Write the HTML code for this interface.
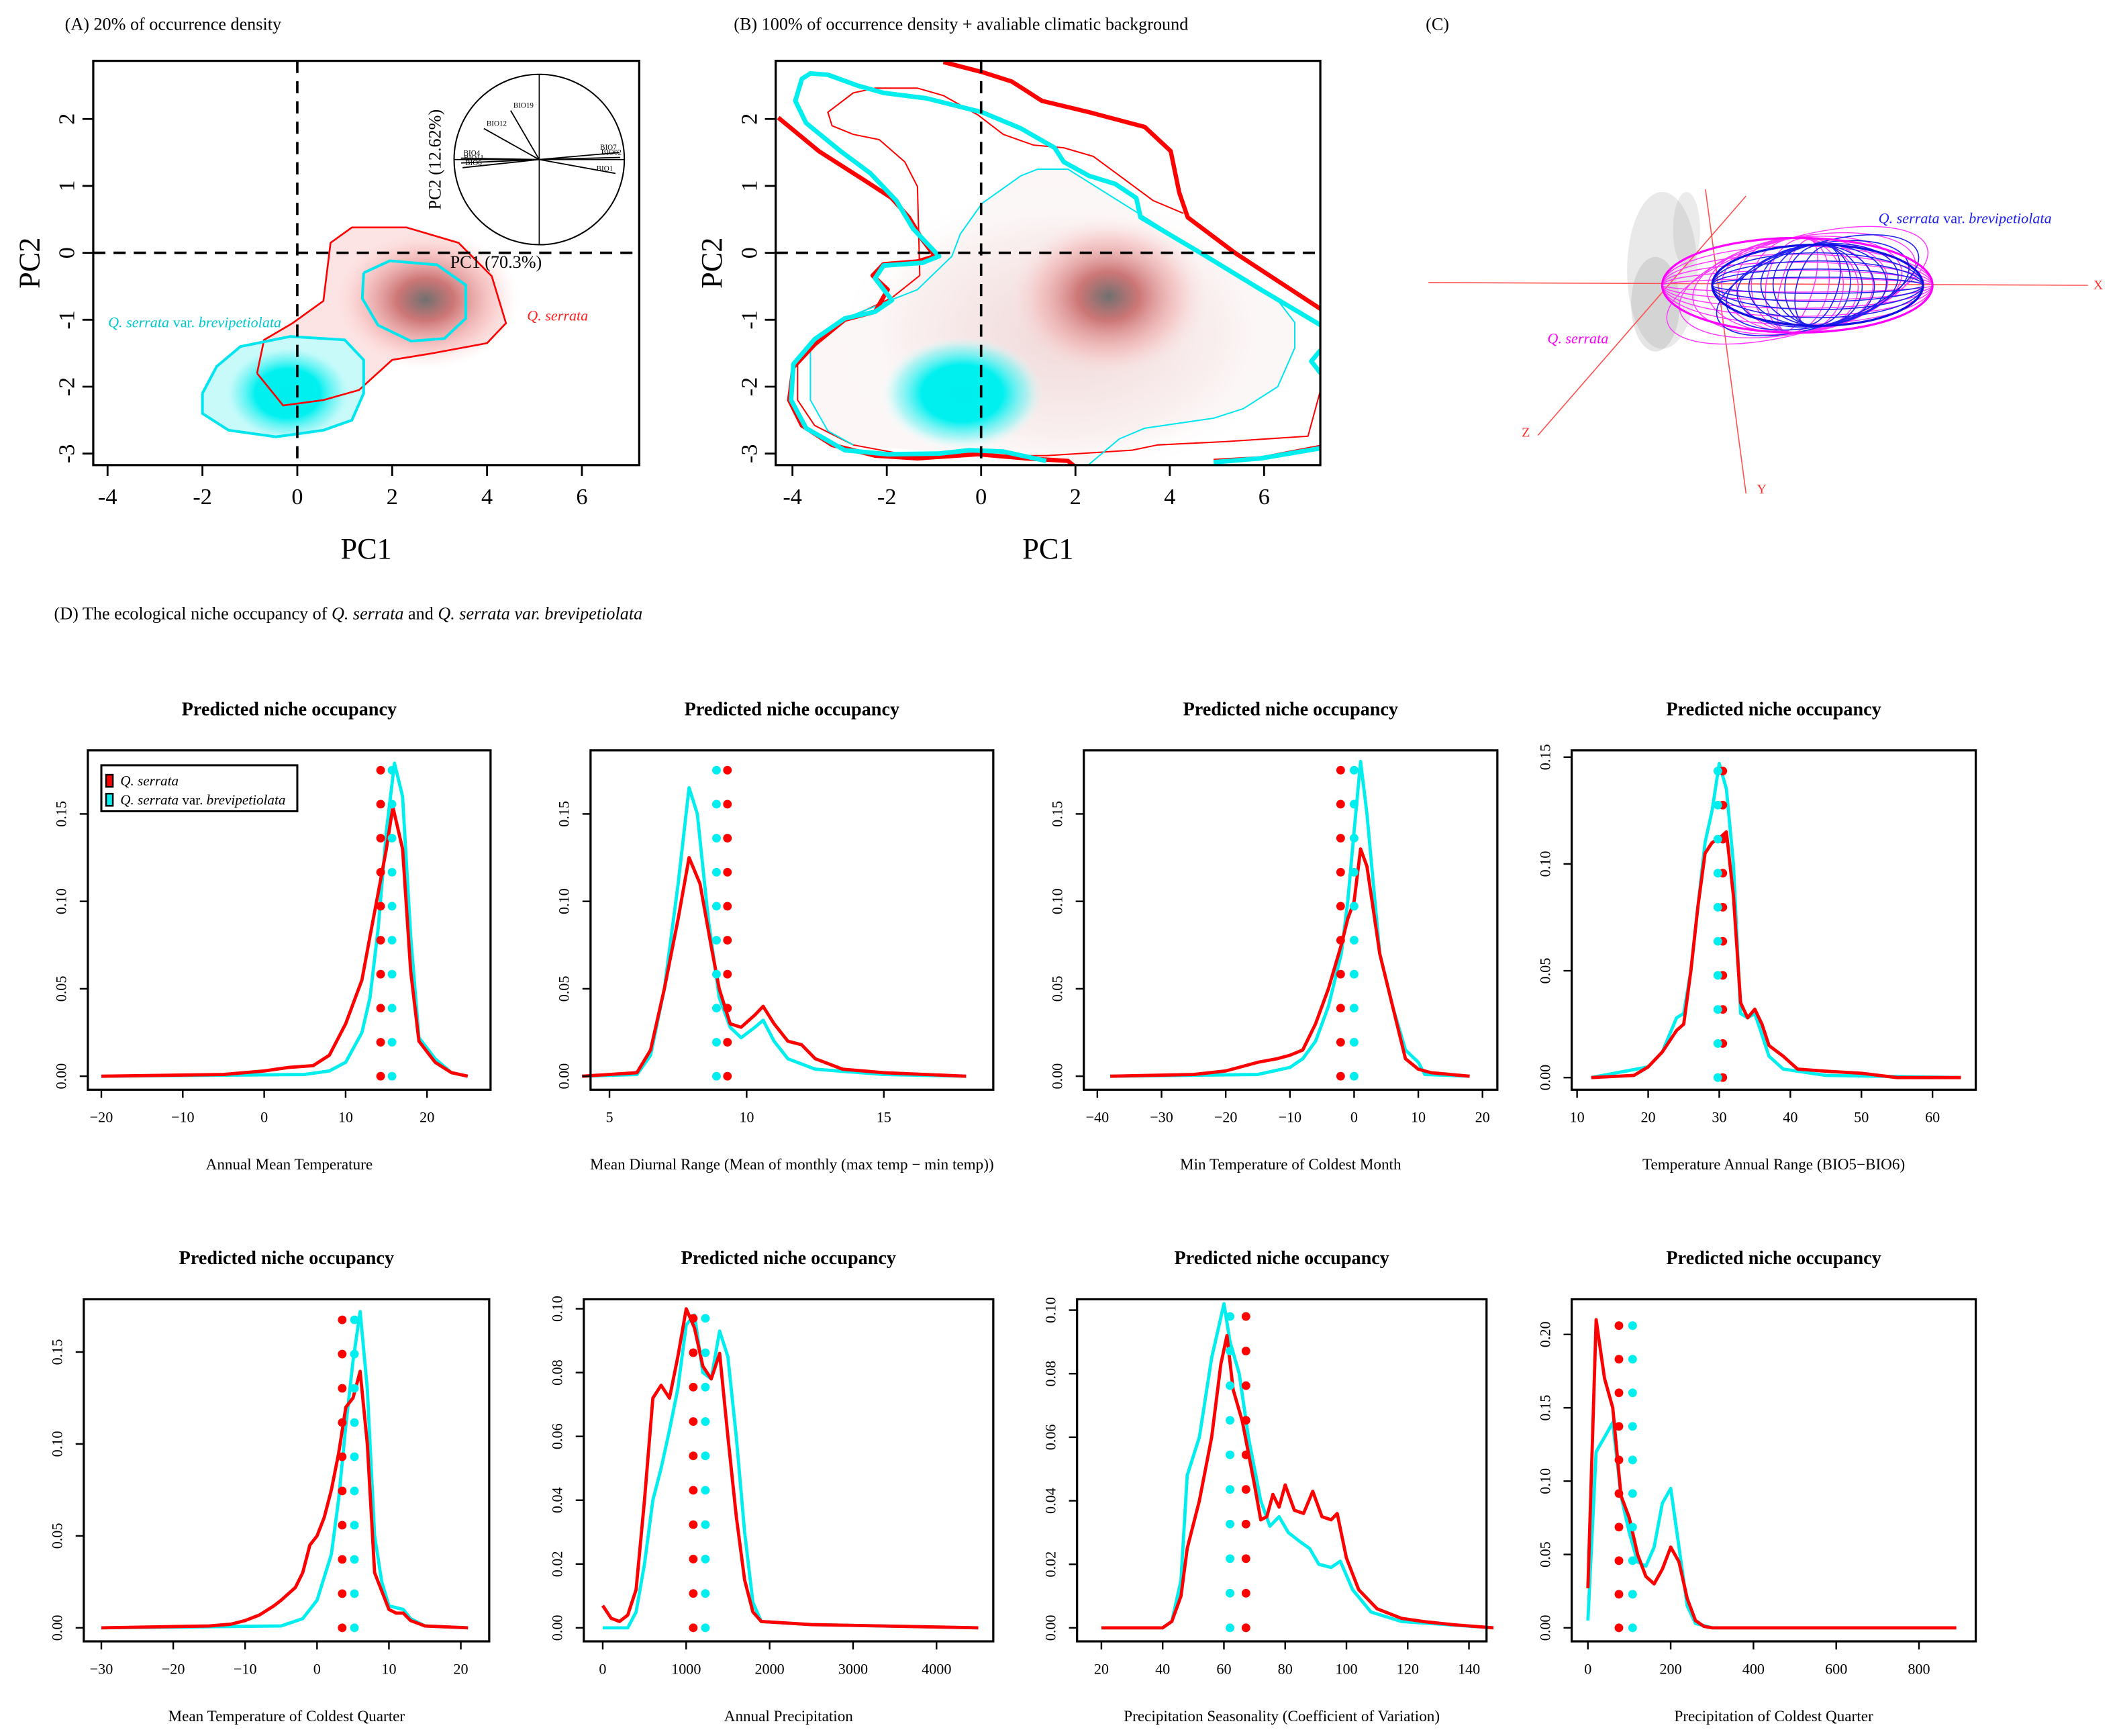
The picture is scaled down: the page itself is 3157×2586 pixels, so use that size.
<!DOCTYPE html>
<html><head><meta charset="utf-8">
<style>
html,body{margin:0;padding:0;background:#fff;}
svg{display:block;font-family:"Liberation Serif",serif;}
</style></head>
<body>
<svg id="fig" width="3157" height="2586" viewBox="0 0 1568 1284" preserveAspectRatio="none" xmlns="http://www.w3.org/2000/svg">
<defs>
<radialGradient id="redA">
<stop offset="0" stop-color="#707070"/><stop offset="0.3" stop-color="#c86a6a" stop-opacity="0.9"/><stop offset="0.7" stop-color="#f4b0b0" stop-opacity="0.5"/><stop offset="1" stop-color="#fde8e8" stop-opacity="0"/>
</radialGradient>
<radialGradient id="cyanA">
<stop offset="0" stop-color="#00eeee"/><stop offset="0.5" stop-color="#00f0f0"/><stop offset="0.8" stop-color="#80f4f4" stop-opacity="0.6"/><stop offset="1" stop-color="#e0ffff" stop-opacity="0"/>
</radialGradient>
<radialGradient id="bgB">
<stop offset="0" stop-color="#f0d8d8"/><stop offset="0.7" stop-color="#faf0f0"/><stop offset="1" stop-color="#ffffff" stop-opacity="0"/>
</radialGradient>
<clipPath id="clipA"><rect x="69" y="45" width="404" height="299"/></clipPath>
<clipPath id="clipB"><rect x="574" y="45" width="403" height="299"/></clipPath>
</defs>
<g id="root"></g>
</svg>
<script>
// ---------- Panel A/B contour data (PC1, PC2) ----------
const contourA_red = [[-0.85,-1.8],[-0.7,-1.3],[-0.1,-1.05],[0.55,-0.72],[0.7,0.15],[1.15,0.38],[2.3,0.38],[3.4,0.15],[4.1,-0.35],[4.4,-1.05],[4.0,-1.35],[2.85,-1.5],[2.0,-1.6],[1.3,-2.05],[0.55,-2.2],[-0.3,-2.28],[-0.85,-1.8]];
const contourA_cyanOuter = [[-2.0,-2.1],[-1.7,-1.7],[-1.2,-1.4],[-0.15,-1.25],[1.0,-1.3],[1.4,-1.6],[1.4,-2.1],[1.15,-2.5],[0.55,-2.65],[-0.45,-2.75],[-1.45,-2.65],[-2.0,-2.4],[-2.0,-2.1]];
const contourA_cyanInner = [[1.4,-0.3],[1.95,-0.12],[2.95,-0.18],[3.55,-0.48],[3.55,-0.98],[3.1,-1.28],[2.4,-1.32],[1.7,-1.08],[1.37,-0.68],[1.4,-0.3]];
const contourB_redThickA = [[-4.3,2.02],[-3.44,1.52],[-2.53,1.11],[-1.9,0.82],[-1.53,0.53],[-1.25,0.2],[-0.98,-0.05],[-1.35,-0.13],[-2.07,-0.17],[-2.3,-0.34],[-1.98,-0.55],[-2.25,-0.88],[-2.89,-1.0],[-3.53,-1.37],[-3.98,-1.71],[-4.07,-2.2],[-3.8,-2.58],[-3.16,-2.87],[-2.25,-3.03],[-1.35,-3.07],[-0.07,-3.01],[0.93,-3.07],[1.84,-3.11],[2.0,-3.2]];
const contourB_redThickB = [[-0.8,2.85],[0.02,2.7],[0.65,2.56],[1.29,2.27],[2.29,2.1],[3.47,1.88],[4.02,1.52],[4.2,0.9],[4.38,0.53],[5.38,0],[7.2,-0.84]];
const contourB_redThickC = [[4.93,-3.11],[5.93,-3.07],[7.2,-2.9]];
const contourB_cyanThick = [[1.38,-3.11],[0.47,-2.97],[-0.25,-2.95],[-0.89,-3.0],[-1.98,-3.01],[-2.89,-2.95],[-3.71,-2.62],[-4.03,-2.2],[-3.98,-1.66],[-3.53,-1.29],[-2.89,-0.98],[-2.25,-0.88],[-1.89,-0.71],[-2.25,-0.38],[-2.07,-0.19],[-1.25,-0.15],[-0.89,-0.05],[-1.44,0.36],[-1.8,0.78],[-2.35,1.19],[-2.98,1.52],[-3.71,1.94],[-3.94,2.27],[-3.8,2.6],[-3.62,2.68],[-3.25,2.66],[-2.62,2.5],[-2.07,2.39],[-1.16,2.31],[0.02,2.1],[0.84,1.86],[1.56,1.57],[1.75,1.36],[2.29,1.15],[2.84,1.03],[3.29,0.82],[3.38,0.53],[4.65,0],[5.93,-0.55],[7.2,-1.08]];
const contourB_cyanThickB = [[4.93,-3.13],[5.93,-3.07],[7.2,-2.92]];
const contourB_cyanThickC = [[7.2,-1.45],[7.0,-1.62],[7.2,-1.8]];
const contourB_redThin = [[-1.3,-0.34],[-1.35,0.99],[-1.62,1.36],[-2.16,1.69],[-2.71,1.77],[-3.16,1.9],[-3.25,2.1],[-2.71,2.39],[-2.25,2.46],[-1.35,2.46],[-0.8,2.35],[-0.07,2.06],[0.47,1.77],[1.11,1.61],[1.75,1.57],[2.38,1.44],[3.65,0.78],[4.29,0.59]];
const contourB_redThin2 = [[-1.3,-0.34],[-1.89,-0.67],[-2.89,-1.0],[-3.89,-1.58],[-3.89,-2.2],[-3.53,-2.58],[-2.71,-2.87],[-1.8,-2.99],[-0.89,-3.03],[1.38,-3.03],[3.2,-2.95],[3.74,-2.87],[5.2,-2.82],[6.93,-2.74],[7.2,-2.04]];
const contourB_cyanThin = [[2.29,-3.16],[2.93,-2.78],[3.47,-2.62],[4.93,-2.47],[5.56,-2.33],[6.29,-2.0],[6.65,-1.42],[6.65,-1.04],[6.29,-0.71],[3.38,0.57],[1.84,1.25],[1.2,1.25],[0.84,1.15],[0.02,0.74],[-0.44,0.28],[-0.62,-0.05],[-1.35,-0.55],[-2.07,-0.75],[-2.89,-0.98],[-3.62,-1.37],[-3.62,-2.2],[-3.25,-2.66],[-2.71,-2.87]];
const pcaTicksX = [-4,-2,0,2,4,6];
const pcaTicksY = [-3,-2,-1,0,1,2];
const arrowLabels = ["BIO19","BIO12","BIO7","BIO02","BIO4","BIO11","BIO6","BIO1"];
const arrowAngles = [115,145,10,3,178,185,192,-20];

// ---------- Niche occupancy data ----------
const c1RedX=[-20,-5,0,3,6,8,10,12,13,14,15,15.8,17,18,19,21,23,25];
const c1RedY=[0,0.001,0.003,0.005,0.006,0.012,0.03,0.055,0.08,0.105,0.13,0.154,0.13,0.06,0.02,0.008,0.002,0];
const c1CyX=[-20,5,8,10,12,13,14,15,16,17,18,19,21,23,25];
const c1CyY=[0,0.001,0.003,0.008,0.025,0.045,0.085,0.14,0.179,0.16,0.08,0.022,0.01,0.002,0];
const c2RedX=[4,6,6.5,7,7.5,7.9,8.3,8.7,9,9.4,9.8,10.3,10.6,11,11.5,12,12.5,13.5,15,18];
const c2RedY=[0,0.002,0.015,0.05,0.09,0.125,0.11,0.075,0.05,0.03,0.028,0.035,0.04,0.03,0.02,0.018,0.01,0.004,0.002,0];
const c2CyX=[4,6,6.5,7,7.5,7.9,8.2,8.6,9,9.4,9.8,10.3,10.6,11,11.5,12.5,15,18];
const c2CyY=[0,0.001,0.012,0.05,0.11,0.165,0.15,0.09,0.045,0.028,0.022,0.028,0.032,0.02,0.01,0.004,0.001,0];
const c3RedX=[-38,-25,-20,-15,-12,-10,-8,-6,-4,-2,-1,0,1,2,4,6,8,10,12,18];
const c3RedY=[0,0.001,0.003,0.008,0.01,0.012,0.015,0.03,0.05,0.075,0.09,0.1,0.13,0.12,0.07,0.04,0.01,0.004,0.002,0];
const c3CyX=[-38,-15,-10,-8,-6,-4,-2,-1,0,1,2,4,6,8,10,11,18];
const c3CyY=[0,0.001,0.005,0.01,0.02,0.04,0.07,0.1,0.14,0.18,0.15,0.07,0.04,0.015,0.008,0.001,0];
const c4RedX=[12,18,20,22,24,25,26,27,28,29,30,31,32,33,34,35,36,37,39,41,45,50,55,64];
const c4RedY=[0,0.001,0.005,0.012,0.022,0.025,0.05,0.08,0.105,0.11,0.112,0.115,0.085,0.035,0.028,0.032,0.025,0.015,0.01,0.004,0.003,0.002,0,0];
const c4CyX=[12,20,22,24,25,26,27,28,29,30,31,32,33,34,35,36,37,39,45,64];
const c4CyY=[0,0.005,0.012,0.028,0.03,0.05,0.08,0.11,0.125,0.147,0.135,0.1,0.03,0.028,0.03,0.02,0.01,0.004,0.001,0];
const c5RedX=[-30,-15,-12,-10,-8,-6,-5,-3,-2,-1,0,1,2,3,4,5,6,7,8,9,10,11,12,13,15,21];
const c5RedY=[0,0.001,0.002,0.004,0.007,0.012,0.015,0.022,0.03,0.045,0.05,0.06,0.075,0.095,0.12,0.125,0.1395,0.1,0.03,0.02,0.01,0.008,0.008,0.004,0.001,0];
const c5CyX=[-30,-5,-2,0,2,3,4,5,6,7,8,9,10,12,13,15,21];
const c5CyY=[0,0.001,0.005,0.015,0.04,0.07,0.11,0.145,0.172,0.13,0.05,0.025,0.012,0.01,0.005,0.001,0];
const c6RedX=[0,100,200,300,400,500,600,700,800,900,1000,1100,1200,1300,1400,1500,1600,1700,1800,1900,2500,4500];
const c6RedY=[0.007,0.003,0.002,0.004,0.012,0.04,0.072,0.076,0.072,0.085,0.1,0.094,0.082,0.078,0.086,0.06,0.035,0.015,0.005,0.002,0.001,0];
const c6CyX=[0,300,400,500,600,700,800,900,1000,1100,1200,1300,1400,1500,1600,1700,1800,1900,2500,4500];
const c6CyY=[0,0,0.005,0.02,0.04,0.05,0.062,0.075,0.095,0.098,0.08,0.078,0.093,0.085,0.06,0.03,0.008,0.002,0.001,0];
const c7RedX=[20,40,43,46,48,52,56,59,61,63,66,70,72,74,76,78,80,83,86,89,92,95,97,100,104,110,118,125,135,148];
const c7RedY=[0,0,0.002,0.01,0.025,0.04,0.06,0.083,0.092,0.075,0.065,0.045,0.034,0.035,0.042,0.038,0.045,0.037,0.036,0.043,0.035,0.034,0.036,0.022,0.012,0.006,0.003,0.002,0.001,0];
const c7CyX=[20,40,43,46,48,52,56,60,62,65,68,72,75,78,81,85,88,91,95,98,102,108,118,148];
const c7CyY=[0,0,0.002,0.015,0.048,0.06,0.085,0.102,0.09,0.08,0.06,0.04,0.032,0.035,0.03,0.027,0.025,0.02,0.019,0.021,0.012,0.005,0.002,0];
const c8RedX=[0,20,40,60,80,100,120,140,160,180,200,220,240,260,280,300,890];
const c8RedY=[0.027,0.21,0.17,0.15,0.09,0.075,0.05,0.035,0.03,0.04,0.055,0.045,0.02,0.005,0.001,0,0];
const c8CyX=[0,20,40,60,80,100,120,140,160,180,200,220,240,260,300,890];
const c8CyY=[0.005,0.12,0.13,0.14,0.09,0.065,0.045,0.042,0.055,0.085,0.095,0.055,0.015,0.003,0,0];
const meanRed=[14.3,9.3,-2.1,30.5,3.5,1085,67.2,75];
const meanCyan=[15.7,8.9,0,29.8,5.2,1230,62,108];
const dotTop=[0.175,0.175,0.175,0.1435,0.1675,0.097,0.098,0.206];
const xTicks=[[-20,-10,0,10,20],[5,10,15],[-40,-30,-20,-10,0,10,20],[10,20,30,40,50,60],[-30,-20,-10,0,10,20],[0,1000,2000,3000,4000],[20,40,60,80,100,120,140],[0,200,400,600,800]];
const yTicks=[[0,0.05,0.10,0.15],[0,0.05,0.10,0.15],[0,0.05,0.10,0.15],[0,0.05,0.10,0.15],[0,0.05,0.10,0.15],[0,0.02,0.04,0.06,0.08,0.10],[0,0.02,0.04,0.06,0.08,0.10],[0,0.05,0.10,0.15,0.20]];
const xLabels=["Annual Mean Temperature","Mean Diurnal Range (Mean of monthly (max temp \u2212 min temp))","Min Temperature of Coldest Month","Temperature Annual Range (BIO5\u2212BIO6)","Mean Temperature of Coldest Quarter","Annual Precipitation","Precipitation Seasonality (Coefficient of Variation)","Precipitation of Coldest Quarter"];
</script>
<script>
const NS="http://www.w3.org/2000/svg";
const root=document.getElementById('root');
function mk(tag,attrs,parent,text){const e=document.createElementNS(NS,tag);for(const k in attrs)e.setAttribute(k,attrs[k]);if(text!==undefined)e.textContent=text;(parent||root).appendChild(e);return e;}

function pcaPanel(id,bx,by,bw,bh,x0,sx,y0,sy,clip){
  const g=mk('g',{});
  
  
  const X=v=>x0+v*sx, Y=v=>y0-v*sy;
  const pts=a=>a.map(p=>X(p[0]).toFixed(1)+','+Y(p[1]).toFixed(1)).join(' ');
  const inner=mk('g',{'clip-path':'url(#'+clip+')'},g);
  return {g,inner,X,Y,pts,bx,by,bw,bh};
}
function pcaAxes(P){
  const {g,X,Y,bx,by,bw,bh}=P;
  mk('rect',{x:bx,y:by,width:bw,height:bh,fill:'none',stroke:'#000','stroke-width':1.6},g);
  mk('line',{x1:X(0),y1:by,x2:X(0),y2:by+bh,stroke:'#000','stroke-width':1.8,'stroke-dasharray':'9,6'},g);
  mk('line',{x1:bx,y1:Y(0),x2:bx+bw,y2:Y(0),stroke:'#000','stroke-width':1.8,'stroke-dasharray':'9,6'},g);
  pcaTicksX.forEach(t=>{mk('line',{x1:X(t),y1:by+bh,x2:X(t),y2:by+bh+8,stroke:'#000','stroke-width':1.4},g);
    const tl=mk('text',{x:X(t),y:by+bh+29,'font-size':17,'text-anchor':'middle'},g,t);});
  pcaTicksY.forEach(t=>{mk('line',{x1:bx-8,y1:Y(t),x2:bx,y2:Y(t),stroke:'#000','stroke-width':1.4},g);
    const tl=mk('text',{x:bx-14,y:Y(t),'font-size':17,'text-anchor':'middle',transform:`rotate(-90 ${bx-14} ${Y(t)})`},g,t);});
  const xl=mk('text',{x:bx+bw/2,y:by+bh+69,'font-size':22,'text-anchor':'middle'},g,'PC1');
  const yl=mk('text',{x:bx-40,y:by+bh/2,'font-size':22,'text-anchor':'middle',transform:`rotate(-90 ${bx-40} ${by+bh/2})`},g,'PC2');
}
// Panel A
const A=pcaPanel('a',69,45,404,299,220,35.1,187,49.5,'clipA');
mk('polygon',{points:A.pts(contourA_red),fill:'#fde4e4'},A.inner);
mk('ellipse',{cx:A.X(2.7),cy:A.Y(-0.7),rx:70,ry:52,fill:'url(#redA)'},A.inner);
mk('polygon',{points:A.pts(contourA_cyanOuter),fill:'#c8fafa'},A.inner);
mk('ellipse',{cx:A.X(-0.2),cy:A.Y(-2.1),rx:48,ry:36,fill:'url(#cyanA)'},A.inner);
mk('polyline',{points:A.pts(contourA_red),fill:'none',stroke:'#ff0000','stroke-width':1.3},A.inner);
mk('polyline',{points:A.pts(contourA_cyanOuter),fill:'none',stroke:'#00e5ee','stroke-width':2},A.inner);
mk('polyline',{points:A.pts(contourA_cyanInner),fill:'none',stroke:'#00e5ee','stroke-width':2},A.inner);
pcaAxes(A);
let t=mk('text',{x:80,y:242,'font-size':11,fill:'#00c8d0','font-style':'italic'},A.g);
mk('tspan',{},t,'Q. serrata');mk('tspan',{'font-style':'normal'},t,' var. ');mk('tspan',{},t,'brevipetiolata');

t=mk('text',{x:390,y:237,'font-size':11,fill:'#ff2020','font-style':'italic'},A.g,'Q. serrata');

const cc=mk('g',{},A.g);
const ccx=399,ccy=118,ccr=63;
mk('circle',{cx:ccx,cy:ccy,r:ccr,fill:'#fff',stroke:'#000','stroke-width':1},cc);
mk('line',{x1:ccx-ccr,y1:ccy,x2:ccx+ccr,y2:ccy,stroke:'#000','stroke-width':0.8},cc);
mk('line',{x1:ccx,y1:ccy-ccr,x2:ccx,y2:ccy+ccr,stroke:'#000','stroke-width':0.8},cc);
arrowLabels.forEach((lab,i)=>{const a=arrowAngles[i]*Math.PI/180;const L=i<2?50:(i>=4&&i<7?58:60);
  const x2=ccx+L*Math.cos(a),y2=ccy-L*Math.sin(a)*(i<2?0.8:0.5);
  mk('line',{x1:ccx,y1:ccy,x2:x2,y2:y2,stroke:'#000','stroke-width':0.9},cc);
  mk('text',{x:x2+(Math.cos(a)>0?-14:2),y:y2-2,'font-size':5.5},cc,lab);});
mk('text',{x:ccx-32,y:ccy+80,'font-size':13,'text-anchor':'middle'},cc,'PC1 (70.3%)');
mk('text',{x:ccx-73,y:ccy,'font-size':13,'text-anchor':'middle',transform:`rotate(-90 ${ccx-73} ${ccy})`},cc,'PC2 (12.62%)');

// Panel B
const B=pcaPanel('b',574,45,403,299,726,34.9,187,49.5,'clipB');
mk('polygon',{points:B.pts(contourB_cyanThin),fill:'#fcf6f6'},B.inner);
mk('ellipse',{cx:B.X(1.8),cy:B.Y(-1.2),rx:170,ry:110,fill:'url(#bgB)'},B.inner);
mk('ellipse',{cx:B.X(2.7),cy:B.Y(-0.65),rx:75,ry:60,fill:'url(#redA)'},B.inner);
mk('ellipse',{cx:B.X(-0.4),cy:B.Y(-2.1),rx:60,ry:42,fill:'url(#cyanA)'},B.inner);
[[contourB_redThin,'#ff0000',1],[contourB_redThin2,'#ff0000',1],[contourB_cyanThin,'#00e5ee',1],
 [contourB_redThickA,'#ff0000',3.2],[contourB_redThickB,'#ff0000',3.2],[contourB_redThickC,'#ff0000',3.2],
 [contourB_cyanThick,'#00eeee',3.4],[contourB_cyanThickB,'#00eeee',3.4],[contourB_cyanThickC,'#00eeee',3.4]].forEach(c=>{
  const p=mk('polyline',{points:B.pts(c[0]),fill:'none',stroke:c[1],'stroke-width':c[2],'stroke-linejoin':'round'},B.inner);
  });
pcaAxes(B);

// Panel C (3D view)
const C=mk('g',{});
mk('ellipse',{cx:1230,cy:200,rx:26,ry:58,fill:'#9a9a9a',opacity:0.22},C);
mk('ellipse',{cx:1225,cy:225,rx:18,ry:35,fill:'#888',opacity:0.22},C);
mk('ellipse',{cx:1248,cy:170,rx:10,ry:28,fill:'#999',opacity:0.2},C);
mk('line',{x1:1057,y1:209,x2:1545,y2:211,stroke:'#ff5050','stroke-width':0.8},C);
mk('line',{x1:1262,y1:140,x2:1292,y2:365,stroke:'#ff5050','stroke-width':0.8},C);
mk('line',{x1:1292,y1:145,x2:1138,y2:322,stroke:'#ff5050','stroke-width':0.8},C);
for(let k=0;k<9;k++){mk('ellipse',{cx:1330,cy:211,rx:100-k*11,ry:35,fill:'none',stroke:'#ff33ff','stroke-width':0.7,transform:`rotate(${k*4-16} 1330 211)`},C);}
for(let k=0;k<6;k++){mk('ellipse',{cx:1330,cy:211,rx:100,ry:35-k*6,fill:'none',stroke:'#ff33ff','stroke-width':0.7},C);}
for(let k=0;k<8;k++){mk('ellipse',{cx:1345,cy:211,rx:78-k*9,ry:30,fill:'none',stroke:'#2020ee','stroke-width':0.8,transform:`rotate(${k*5-18} 1345 211)`},C);}
for(let k=0;k<5;k++){mk('ellipse',{cx:1345,cy:211,rx:78,ry:30-k*6,fill:'none',stroke:'#2020ee','stroke-width':0.8},C);}
mk('ellipse',{cx:1330,cy:211,rx:100,ry:35,fill:'none',stroke:'#ff00ff','stroke-width':1.6},C);
mk('ellipse',{cx:1345,cy:211,rx:78,ry:30,fill:'none',stroke:'#1010e0','stroke-width':1.6},C);
mk('text',{x:1549,y:214,'font-size':10,fill:'#ff3030'},C,'X');
mk('text',{x:1300,y:365,'font-size':10,fill:'#ff3030'},C,'Y');
mk('text',{x:1126,y:323,'font-size':10,fill:'#ff3030'},C,'Z');
t=mk('text',{x:1390,y:165,'font-size':11,fill:'#2020ee','font-style':'italic'},C);
mk('tspan',{},t,'Q. serrata');mk('tspan',{'font-style':'normal'},t,' var. ');mk('tspan',{},t,'brevipetiolata');
mk('text',{x:1145,y:254,'font-size':11,fill:'#ff00ff','font-style':'italic'},C,'Q. serrata');

[['(A) 20% of occurrence density',48,22],['(B) 100% of occurrence density + avaliable climatic background',543,22],['(C)',1055,22]].forEach(a=>{
  const e=mk('text',{x:a[1],y:a[2],'font-size':13},root,a[0]);});
t=mk('text',{x:40,y:458,'font-size':13});
mk('tspan',{},t,'(D)  The ecological niche occupancy of ');mk('tspan',{'font-style':'italic'},t,'Q. serrata');mk('tspan',{},t,' and ');mk('tspan',{'font-style':'italic'},t,'Q. serrata var. brevipetiolata');

// ---------- Panel D charts ----------
const series=[[c1RedX,c1RedY,c1CyX,c1CyY],[c2RedX,c2RedY,c2CyX,c2CyY],[c3RedX,c3RedY,c3CyX,c3CyY],[c4RedX,c4RedY,c4CyX,c4CyY],
 [c5RedX,c5RedY,c5CyX,c5CyY],[c6RedX,c6RedY,c6CyX,c6CyY],[c7RedX,c7RedY,c7CyX,c7CyY],[c8RedX,c8RedY,c8CyX,c8CyY]];
const layout=[[65,363,555,806,-20,75,20,316,796,0.15,602],[437,735,555,806,5,451,15,654,796,0.15,602],[802,1108,555,806,-40,812,20,1097,796,0.15,602],[1163,1462,555,806,10,1167,60,1430,797,0.15,560],
 [62,362,961,1214,-30,75,20,341,1204,0.15,1000],[432,735,961,1214,0,446,4000,693,1204,0.10,968],[797,1100,961,1214,20,815,140,1087,1204,0.10,969],[1163,1462,961,1214,0,1175,800,1420,1204,0.20,987]];
layout.forEach((L,i)=>{
  const g=mk('g',{});
  
  
  const [bl,br,bt,bb,xv1,xp1,xv2,xp2,y0,yv,yp]=L;
  const X=v=>xp1+(v-xv1)*(xp2-xp1)/(xv2-xv1);
  const Y=v=>y0-v*(y0-yp)/yv;
  const ttl=mk('text',{x:(bl+br)/2,y:bt-26,'font-size':14,'font-weight':'bold','text-anchor':'middle'},g,'Predicted niche occupancy');
  
  const s=series[i];
  const line=(xs,ys,col,nm)=>{const p=mk('polyline',{points:xs.map((x,j)=>X(x).toFixed(1)+','+Y(ys[j]).toFixed(1)).join(' '),fill:'none',stroke:col,'stroke-width':2.4,'stroke-linejoin':'round'},g);
    };
  line(s[2],s[3],'#00eeee','series-var-brevipetiolata');
  line(s[0],s[1],'#ff0000','series-q-serrata');
  for(let k=0;k<10;k++){const v=dotTop[i]*k/9;
    const d1=mk('circle',{cx:X(meanRed[i]),cy:Y(v),r:3.2,fill:'#ff0000'},g);
    const d2=mk('circle',{cx:X(meanCyan[i]),cy:Y(v),r:3.2,fill:'#00eeee'},g);}
  const fr=mk('rect',{x:bl,y:bt,width:br-bl,height:bb-bt,fill:'none',stroke:'#000','stroke-width':1.6},g);
  xTicks[i].forEach(tv=>{mk('line',{x1:X(tv),y1:bb,x2:X(tv),y2:bb+6,stroke:'#000','stroke-width':1.2},g);
    const tl=mk('text',{x:X(tv),y:bb+24,'font-size':11,'text-anchor':'middle'},g,tv<0?'\u2212'+(-tv):tv);});
  yTicks[i].forEach(tv=>{mk('line',{x1:bl-6,y1:Y(tv),x2:bl,y2:Y(tv),stroke:'#000','stroke-width':1.2},g);
    const lx=bl-16;const tl=mk('text',{x:lx,y:Y(tv),'font-size':11,'text-anchor':'middle',transform:`rotate(-90 ${lx} ${Y(tv)})`},g,tv.toFixed(2));
    });
  const xl=mk('text',{x:(bl+br)/2,y:bb+59,'font-size':11.5,'text-anchor':'middle'},g,xLabels[i]);
  if(i===0){
    const lg=mk('g',{},g);
    mk('rect',{x:75,y:566,width:145,height:34,fill:'#fff',stroke:'#000','stroke-width':1.5},lg);
    mk('rect',{x:78.5,y:573,width:5,height:9,fill:'#ff0000',stroke:'#000','stroke-width':1.2},lg);
    mk('rect',{x:78.5,y:587,width:5,height:9,fill:'#00eeee',stroke:'#000','stroke-width':1.2},lg);
    const e1=mk('text',{x:89,y:581,'font-size':10.5,'font-style':'italic'},lg,'Q. serrata');
    const e2=mk('text',{x:89,y:595,'font-size':10.5,'font-style':'italic'},lg);
    mk('tspan',{},e2,'Q. serrata');mk('tspan',{'font-style':'normal'},e2,' var. ');mk('tspan',{},e2,'brevipetiolata');
  }
});
</script>
</body></html>
